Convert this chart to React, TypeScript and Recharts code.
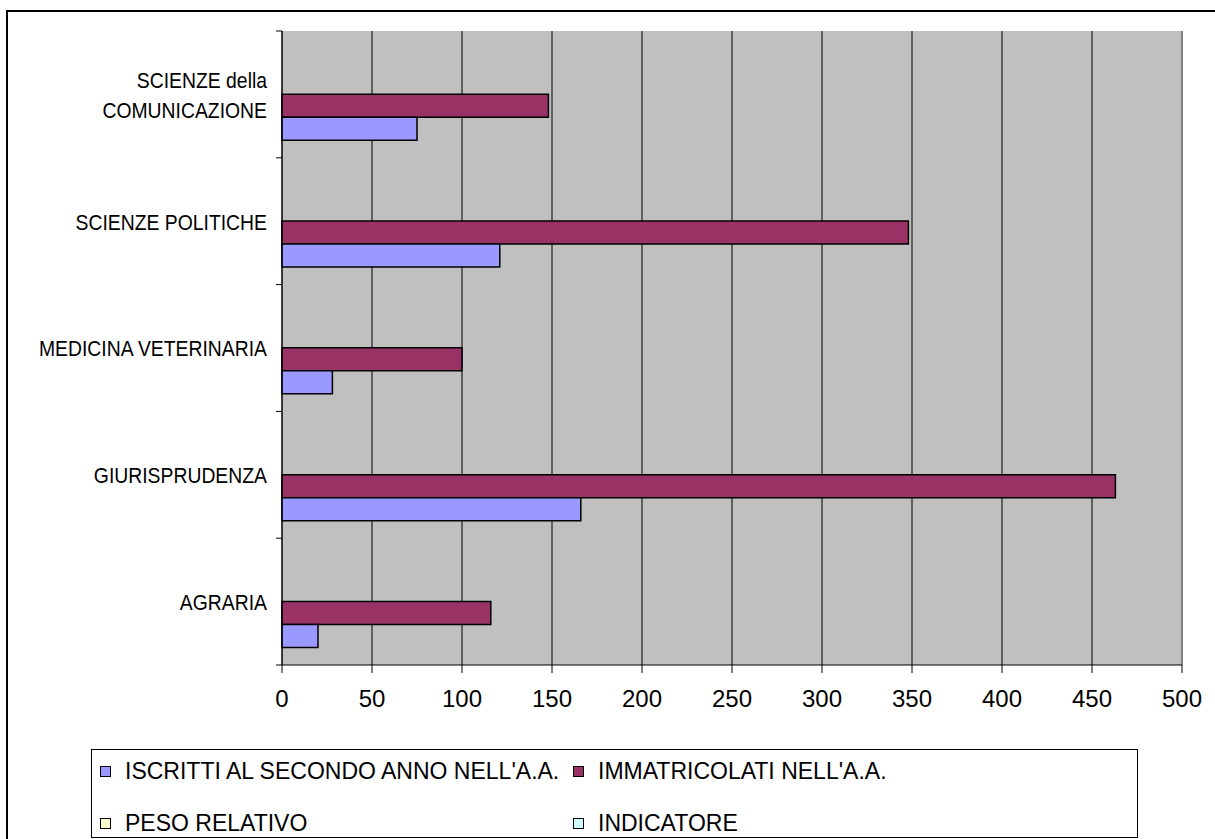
import React from "react";
import { Bar, BarChart, CartesianGrid, Legend, ReferenceLine, XAxis, YAxis } from "recharts";

// Facoltà (dall'alto verso il basso)
const facolta = [
  "SCIENZE della\nCOMUNICAZIONE",
  "SCIENZE POLITICHE",
  "MEDICINA VETERINARIA",
  "GIURISPRUDENZA",
  "AGRARIA",
];
const iscrittiSecondoAnno = [75, 121, 28, 166, 20];
const immatricolati = [148, 348, 100, 463, 116];
const pesoRelativo = [0, 0, 0, 0, 0];
const indicatore = [0, 0, 0, 0, 0];
const xTicks = [0, 50, 100, 150, 200, 250, 300, 350, 400, 450, 500];

const series = [
  { key: "iscritti", name: "ISCRITTI AL SECONDO ANNO NELL'A.A.", color: "#9999FF" },
  { key: "immatricolati", name: "IMMATRICOLATI NELL'A.A.", color: "#993366" },
  { key: "peso", name: "PESO RELATIVO", color: "#FFFFCC" },
  { key: "indicatore", name: "INDICATORE", color: "#CCFFFF" },
];

const data = facolta.map((f, i) => ({
  facolta: f,
  iscritti: iscrittiSecondoAnno[i],
  immatricolati: immatricolati[i],
  peso: pesoRelativo[i],
  indicatore: indicatore[i],
}));

const FONT = "'Liberation Sans', Arial, sans-serif";

// etichetta categoria + tacche sui bordi delle fasce, stile Excel
const CategoryTick = (props: any) => {
  const { x, y, payload, index, visibleTicksCount } = props;
  const half = payload.offset || 0;
  const lines = String(payload.value).split("\n");
  const lh = 30;
  const y0 = y - ((lines.length - 1) * lh) / 2;
  return (
    <g>
      <line x1={x + 9} x2={x + 15} y1={y - half} y2={y - half} stroke="#000" />
      {index === visibleTicksCount - 1 && (
        <line x1={x + 9} x2={x + 15} y1={y + half} y2={y + half} stroke="#000" />
      )}
      <text
        x={x}
        y={y0}
        textAnchor="end"
        dominantBaseline="central"
        fontFamily={FONT}
        fontSize={22}
        fill="#000"
        transform={`translate(${x},0) scale(0.88,1) translate(${-x},0)`}
      >
        {lines.map((l, i) => (
          <tspan key={i} x={x} dy={i === 0 ? 0 : lh}>
            {l}
          </tspan>
        ))}
      </text>
    </g>
  );
};

const renderLegend = () => (
  <div
    style={{
      width: "100%",
      height: "100%",
      boxSizing: "border-box",
      border: "1px solid #000",
      background: "#fff",
      position: "relative",
      fontFamily: FONT,
      fontSize: 23,
      color: "#000",
    }}
  >
    {series.map((s, i) => (
      <div
        key={s.key}
        style={{
          position: "absolute",
          left: i % 2 === 0 ? 8 : 481,
          top: i < 2 ? 8 : 60,
          height: 26,
          display: "flex",
          alignItems: "center",
          whiteSpace: "nowrap",
        }}
      >
        <span
          style={{
            display: "inline-block",
            width: 9,
            height: 9,
            background: s.color,
            border: "1px solid #000",
            marginRight: 14,
          }}
        />
        {s.name}
      </div>
    ))}
  </div>
);

export default function App() {
  return (
    <div style={{ position: "absolute", left: 0, top: 0, width: 1215, height: 839, overflow: "hidden", background: "#fff" }}>
      <div
        style={{
          position: "absolute",
          left: 6,
          top: 10,
          width: 1300,
          height: 900,
          border: "2px solid #000",
        }}
      />
      <div style={{ position: "absolute", left: 0, top: 0 }}>
        <BarChart
          width={1215}
          height={839}
          data={data}
          layout="vertical"
          margin={{ top: 31, right: 33, bottom: 134, left: 0 }}
          barCategoryGap="13.6%"
          barGap={0}
        >
          <CartesianGrid horizontal={false} stroke="#000" fill="#C0C0C0" fillOpacity={1} />
          <XAxis
            type="number"
            domain={[0, 500]}
            ticks={xTicks}
            interval={0}
            height={40}
            tickSize={8}
            tickMargin={17}
            stroke="#000"
            tick={{ fill: "#000", fontSize: 24, fontFamily: FONT }}
          />
          <XAxis
            xAxisId="top"
            orientation="top"
            type="number"
            domain={[0, 500]}
            height={0}
            tick={false}
            tickLine={false}
            stroke="#808080"
          />
          <YAxis
            type="category"
            dataKey="facolta"
            width={282}
            tickSize={0}
            tickMargin={15}
            interval={0}
            stroke="#000"
            tick={<CategoryTick />}
          />
          <ReferenceLine x={500} stroke="#808080" strokeWidth={2} />
          <Legend
            layout="horizontal"
            verticalAlign="middle"
            align="center"
            content={renderLegend}
            wrapperStyle={{ left: 91, top: 749, width: 1047, height: 89 }}
          />
          <Bar dataKey="indicatore" name="INDICATORE" fill="#CCFFFF" stroke="#000" strokeWidth={1.5} isAnimationActive={false} />
          <Bar dataKey="peso" name="PESO RELATIVO" fill="#FFFFCC" stroke="#000" strokeWidth={1.5} isAnimationActive={false} />
          <Bar dataKey="immatricolati" name="IMMATRICOLATI NELL'A.A." fill="#993366" stroke="#000" strokeWidth={1.5} isAnimationActive={false} />
          <Bar dataKey="iscritti" name="ISCRITTI AL SECONDO ANNO NELL'A.A." fill="#9999FF" stroke="#000" strokeWidth={1.5} isAnimationActive={false} />
        </BarChart>
      </div>
    </div>
  );
}
